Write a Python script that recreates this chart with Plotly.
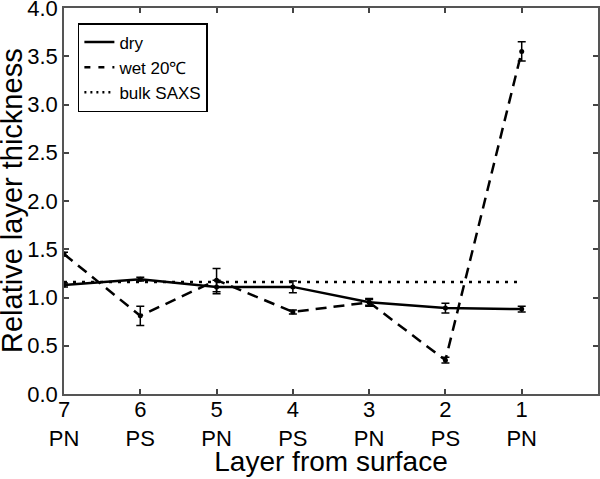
import plotly.graph_objects as go

layers = ["7", "6", "5", "4", "3", "2", "1"]
layer_types = ["PN", "PS", "PN", "PS", "PN", "PS", "PN"]
pos = [0, 1, 2, 3, 4, 5, 6]

dry = [1.13, 1.19, 1.11, 1.11, 0.95, 0.89, 0.88]
dry_err = [0.02, 0.02, 0.07, 0.06, 0.04, 0.05, 0.03]
wet = [1.45, 0.81, 1.18, 0.85, 0.95, 0.35, 3.55]
wet_err = [0.02, 0.10, 0.12, 0.02, 0.03, 0.03, 0.10]
bulk = [1.16, 1.16, 1.16, 1.16, 1.16, 1.16, 1.16]

FONT = "Liberation Sans, Arial, sans-serif"
AX = "#555555"
TK = "#444444"
WET_DASH = "11px,7px"
DOT = "3px,6px"

fig = go.Figure()
fig.add_trace(go.Scatter(
    x=pos, y=dry, name="dry", mode="lines+markers", showlegend=False,
    line=dict(color="black", width=2.5, dash="solid"),
    marker=dict(color="black", size=5),
    error_y=dict(type="data", array=dry_err, color="black", thickness=1.5, width=4),
))
fig.add_trace(go.Scatter(
    x=pos, y=wet, name="wet 20℃", mode="lines+markers", showlegend=False,
    line=dict(color="black", width=2.5, dash=WET_DASH),
    marker=dict(color="black", size=5),
    error_y=dict(type="data", array=wet_err, color="black", thickness=1.5, width=4),
))
fig.add_trace(go.Scatter(
    x=pos, y=bulk, name="bulk SAXS", mode="lines", showlegend=False,
    line=dict(color="black", width=2.5, dash=DOT),
))
# legend entries (line only, like the reference)
fig.add_trace(go.Scatter(x=[None], y=[None], name="dry", mode="lines",
                         line=dict(color="black", width=2.5, dash="solid")))
fig.add_trace(go.Scatter(x=[None], y=[None], name="wet 20℃", mode="lines",
                         line=dict(color="black", width=2.5, dash="6px,8px")))
fig.add_trace(go.Scatter(x=[None], y=[None], name="bulk SAXS", mode="lines",
                         line=dict(color="black", width=2.5, dash="2px,4px")))
# second row of tick labels (layer type)
fig.add_trace(go.Scatter(x=pos, y=[None]*7, xaxis="x2", showlegend=False, hoverinfo="skip"))

fig.update_layout(
    template="none",
    width=600, height=479,
    margin=dict(l=64, r=2, t=8, b=85),
    paper_bgcolor="white", plot_bgcolor="white",
    font=dict(family=FONT, color="black", size=22),
    showlegend=True,
    legend=dict(
        x=0.026, y=0.961, xanchor="left", yanchor="top",
        bordercolor="black", borderwidth=1.5, bgcolor="white",
        font=dict(size=17, family=FONT), itemwidth=30,
        tracegroupgap=0,
    ),
    xaxis=dict(
        range=[0, 7], tickmode="array", tickvals=pos, ticktext=layers,
        ticks="inside", ticklen=5, tickcolor=TK, tickwidth=1.5,
        showline=True, linecolor=AX, linewidth=1.5, mirror="ticks",
        showgrid=False, zeroline=False, automargin=False,
        tickfont=dict(size=22, family=FONT), ticklabelstandoff=-5,
        title=dict(text="Layer from surface", font=dict(size=28, family=FONT), standoff=30),
    ),
    xaxis2=dict(
        range=[0, 7], overlaying="x", side="bottom", anchor="y",
        tickmode="array", tickvals=pos, ticktext=layer_types,
        ticks="", showline=False, showgrid=False, zeroline=False, automargin=False,
        tickfont=dict(size=22, family=FONT), ticklabelstandoff=29,
    ),
    yaxis=dict(
        range=[0, 4], dtick=0.5, tick0=0, tickformat=".1f",
        ticks="inside", ticklen=5, tickcolor=TK, tickwidth=1.5,
        showline=True, linecolor=AX, linewidth=1.5, mirror="ticks",
        showgrid=False, zeroline=False, automargin=False,
        ticklabeloverflow="allow",
        tickfont=dict(size=22, family=FONT),
    ),
    annotations=[dict(
        text="Relative layer thickness", textangle=-90,
        xref="paper", yref="paper", x=-52 / 534, y=0.5,
        xanchor="center", yanchor="middle", showarrow=False,
        font=dict(size=29, family=FONT, color="black"),
    )],
)

fig.write_html("out.html", config={"displayModeBar": False},
               post_script="document.body.style.margin='0';")
